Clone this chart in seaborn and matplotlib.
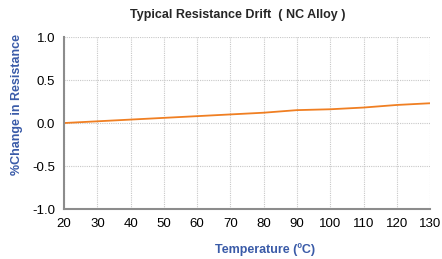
import matplotlib
matplotlib.use("Agg")
import matplotlib.pyplot as plt
import seaborn as sns
import pandas as pd

# Data
temperature = [20, 30, 40, 50, 60, 70, 80, 90, 100, 110, 120, 130]
pct_change = [0.0, 0.02, 0.04, 0.06, 0.08, 0.10, 0.12, 0.15, 0.16, 0.18, 0.21, 0.23]
x_ticks = [20, 30, 40, 50, 60, 70, 80, 90, 100, 110, 120, 130]
y_ticks = [-1.0, -0.5, 0.0, 0.5, 1.0]

df = pd.DataFrame({"Temperature": temperature, "Change": pct_change})

sns.set_style("white")
plt.rcParams["font.family"] = ["Liberation Sans", "DejaVu Sans"]

fig = plt.figure(figsize=(4.42, 2.59), dpi=100)
ax = fig.add_axes([0.145, 0.193, 0.828, 0.664])

sns.lineplot(data=df, x="Temperature", y="Change", color="#f07f22", linewidth=1.3, ax=ax)

ax.set_xlim(20, 130)
ax.set_ylim(-1.0, 1.0)
ax.set_xticks(x_ticks)
ax.set_yticks(y_ticks)
ax.set_yticklabels([f"{v:.1f}" for v in y_ticks])
ax.grid(True, color="#c8c8c8", linestyle=(0, (1, 1)), linewidth=0.8)
ax.set_axisbelow(True)

for side in ["top", "right"]:
    ax.spines[side].set_visible(False)
for side in ["left", "bottom"]:
    ax.spines[side].set_color("#8c8c8c")
    ax.spines[side].set_linewidth(1.5)

ax.tick_params(axis="both", labelsize=9.5, colors="black", length=3, width=0.8, direction="out")
ax.tick_params(axis="both", color="#8c8c8c")

ax.set_xlabel("Temperature (ºC)", color="#3a5ba8", fontsize=9, fontweight="bold")
ax.set_ylabel("%Change in Resistance", color="#3a5ba8", fontsize=9, fontweight="bold")
ax.xaxis.set_label_coords(0.55, -0.2)
ax.yaxis.set_label_coords(-0.112, 0.61)
ax.set_title("Typical Resistance Drift  ( NC Alloy )", fontsize=9, fontweight="bold",
             x=0.475, pad=14)

fig.savefig("out.png", dpi=100)
